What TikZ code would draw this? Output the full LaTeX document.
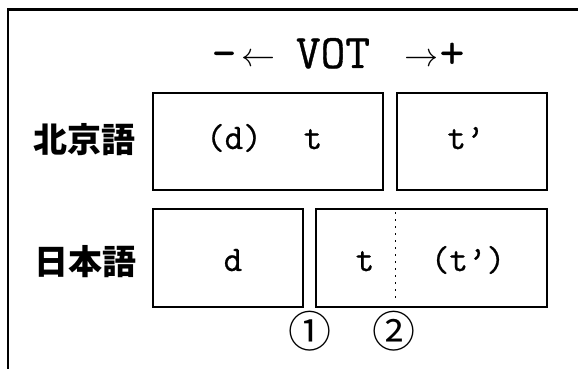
\documentclass[tikz,border=0pt]{standalone}
\usepackage{fontspec}
\newfontfamily\latfont{Latin Modern Mono}[FakeBold=0.7]
\newfontfamily\arrfont{Latin Modern Math}
\newfontfamily\jpfont{Noto Sans CJK JP}

\tikzset{
    votbox/.style={draw,line width=1.4pt,inner sep=0pt},
    lat/.style={font=\fontsize{36}{36}\latfont,anchor=base,inner sep=0pt},
    axis/.style={font=\fontsize{48}{48}\latfont,anchor=base,inner sep=0pt},
    arr/.style={font=\fontsize{34}{34}\arrfont,inner sep=0pt},
    lang/.style={font=\fontsize{34}{34}\jpfont\bfseries,inner sep=0pt},
    bound/.style={font=\fontsize{43}{43}\jpfont,inner sep=0pt},
}

\begin{document}
\begin{tikzpicture}[x=1pt,y=1pt]
    \useasboundingbox (0,0) rectangle (578,369);
    % frame
    \draw [line width=2.5pt] (8,0) -- (8,359.5) -- (578,359.5);
    % VOT axis
    \node [axis] (minus) at (224,301) {-};
    \node [arr] (larr) at (258,311) {←};
    \node [axis] (vot) at (333,301) {VOT};
    \node [arr] (rarr) at (421,311) {→};
    \node [axis] (plus) at (452,301) {+};
    % boxes
    \node [votbox,minimum width=230,minimum height=97] (pek1) at (268,227.5) {};
    \node [votbox,minimum width=150,minimum height=97] (pek2) at (472,227.5) {};
    \node [votbox,minimum width=150,minimum height=98] (jap1) at (228,111) {};
    \node [votbox,minimum width=231,minimum height=98] (jap2) at (431.5,111) {};
    \draw [line width=1.5pt,dash pattern=on 1.5pt off 5.5pt] (jap2.north west) ++(80,-4) coordinate (dtop) -- ++(0,-90) coordinate (dbot);
    % languages
    \node [lang] (beijing) at (84,229) {北京語};
    \node [lang] (nihon) at (85,107) {日本語};
    % sounds
    \node [lat] (bd) at (234,220) {(d)};
    \node [lat] (bt) at (313,220) {t};
    \node [lat] (bth) at (466,220) {t’};
    \node [lat] (jd) at (233,98) {d};
    \node [lat] (jt) at (365,98) {t};
    \node [lat] (jth) at (468,98) {(t’)};
    % boundaries
    \node [bound] (b1) at (310,38) {①};
    \node [bound] (b2) at (394,38) {②};
\end{tikzpicture}
\end{document}
